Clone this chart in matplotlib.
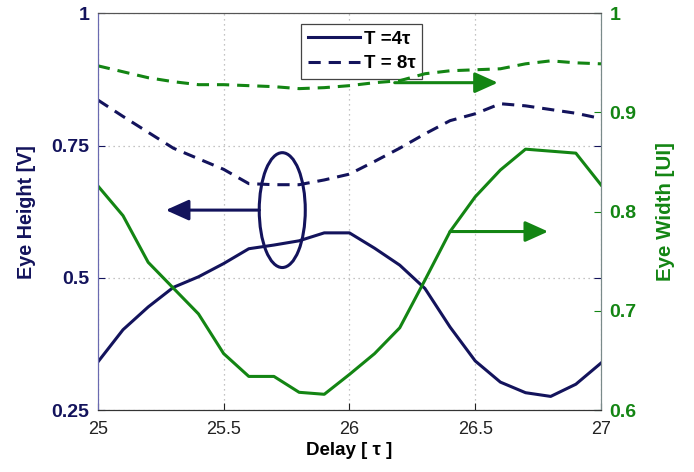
import numpy as np
import matplotlib
matplotlib.use('Agg')
import matplotlib.pyplot as plt
from matplotlib.patches import Ellipse
from matplotlib.lines import Line2D

plt.rcParams['font.family'] = ['Liberation Sans', 'DejaVu Sans']

navy = '#13135c'
green = '#138513'

# delay axis [tau]
delay = [25.0, 25.1, 25.2, 25.3, 25.4, 25.5, 25.6, 25.7, 25.8, 25.9, 26.0,
         26.1, 26.2, 26.3, 26.4, 26.5, 26.6, 26.7, 26.8, 26.9, 27.0]

# eye height [V]
height_t4 = [0.341, 0.402, 0.445, 0.482, 0.502, 0.527, 0.555, 0.562, 0.570, 0.585, 0.585,
             0.556, 0.524, 0.480, 0.407, 0.343, 0.303, 0.283, 0.276, 0.299, 0.339]
height_t8 = [0.836, 0.805, 0.775, 0.745, 0.725, 0.705, 0.678, 0.676, 0.676, 0.685, 0.696,
             0.720, 0.745, 0.772, 0.797, 0.810, 0.829, 0.825, 0.818, 0.811, 0.801]

# eye width [UI]
width_t4 = [0.826, 0.796, 0.749, 0.723, 0.697, 0.657, 0.634, 0.634, 0.618, 0.616, 0.636,
            0.657, 0.683, 0.731, 0.780, 0.815, 0.842, 0.863, 0.861, 0.859, 0.827]
width_t8 = [0.947, 0.941, 0.935, 0.931, 0.928, 0.928, 0.927, 0.926, 0.924, 0.925, 0.927,
            0.930, 0.932, 0.939, 0.942, 0.943, 0.944, 0.949, 0.952, 0.950, 0.949]

x_ticks = [25, 25.5, 26, 26.5, 27]
left_ticks = [0.25, 0.5, 0.75, 1]
right_ticks = [0.6, 0.7, 0.8, 0.9, 1]

fig = plt.figure(figsize=(6.94, 4.72), dpi=100)
ax = fig.add_axes([0.141, 0.131, 0.725, 0.841])
ax2 = ax.twinx()

dash = (0, (4, 2.6))
ax.plot(delay, height_t4, color=navy, lw=2.2)
ax.plot(delay, height_t8, color=navy, lw=2.2, linestyle=dash)
ax2.plot(delay, width_t4, color=green, lw=2.2)
ax2.plot(delay, width_t8, color=green, lw=2.2, linestyle=dash)

ax.set_xlim(25, 27)
ax.set_ylim(0.25, 1)
ax2.set_ylim(0.6, 1)
ax.set_xticks(x_ticks)
ax.set_xticklabels(['25', '25.5', '26', '26.5', '27'])
ax.set_yticks(left_ticks)
ax.set_yticklabels(['0.25', '0.5', '0.75', '1'])
ax2.set_yticks(right_ticks)
ax2.set_yticklabels(['0.6', '0.7', '0.8', '0.9', '1'])

ax.grid(True, color='#b0b0b0', linestyle=(0, (1, 3)), lw=0.9)

ax.tick_params(axis='x', direction='in', length=5, labelsize=13, pad=8, colors='#222222')
ax.tick_params(axis='y', direction='in', length=5, labelsize=14, pad=6,
               colors=navy, right=True)
ax2.tick_params(axis='y', direction='in', length=5, labelsize=14, pad=6, colors=green)
for lab in ax.get_yticklabels():
    lab.set_fontweight('bold')
for lab in ax2.get_yticklabels():
    lab.set_fontweight('bold')

for a in (ax, ax2):
    a.spines['left'].set_color('#6a6ab0')
    a.spines['right'].set_color('#7a8a8a')
    a.spines['top'].set_color('#555555')
    a.spines['bottom'].set_color('#333333')

ax.set_xlabel('Delay [ τ ]', fontsize=13.5, fontweight='bold', labelpad=3)
ax.set_ylabel('Eye Height [V]', fontsize=14.2, fontweight='bold', color=navy, labelpad=11)
ax2.set_ylabel('Eye Width [UI]', fontsize=14.8, fontweight='bold', color=green, labelpad=14)

# legend
handles = [Line2D([], [], color=navy, lw=2.2),
           Line2D([], [], color=navy, lw=2.2, linestyle=dash)]
leg = ax.legend(handles, ['T =4τ', 'T = 8τ'], loc='upper left',
                bbox_to_anchor=(0.385, 0.996), prop={'weight': 'bold', 'size': 13.5},
                handlelength=2.8, handletextpad=0.2, borderpad=0.35, labelspacing=0.4,
                fancybox=False, framealpha=1, edgecolor='#444444')
leg.get_frame().set_linewidth(0.9)
leg.set_zorder(10)

# annotation: ellipse + arrow to left axis
ell = Ellipse((25.733, 0.628), 0.183, 0.217, fill=False, edgecolor=navy, lw=2.2, zorder=5)
ax.add_patch(ell)
ax.annotate('', xy=(25.27, 0.628), xytext=(25.642, 0.628),
            arrowprops=dict(arrowstyle='-|>,head_length=1.0,head_width=0.45',
                            color=navy, lw=2.2, mutation_scale=14, shrinkA=0, shrinkB=0))

# arrows to right axis
ax2.annotate('', xy=(26.59, 0.930), xytext=(26.18, 0.930),
             arrowprops=dict(arrowstyle='-|>,head_length=1.0,head_width=0.45',
                             color=green, lw=2.2, mutation_scale=14, shrinkA=0, shrinkB=0))
ax2.annotate('', xy=(26.79, 0.780), xytext=(26.40, 0.780),
             arrowprops=dict(arrowstyle='-|>,head_length=1.0,head_width=0.45',
                             color=green, lw=2.2, mutation_scale=14, shrinkA=0, shrinkB=0))

fig.savefig('out.png', dpi=100)
